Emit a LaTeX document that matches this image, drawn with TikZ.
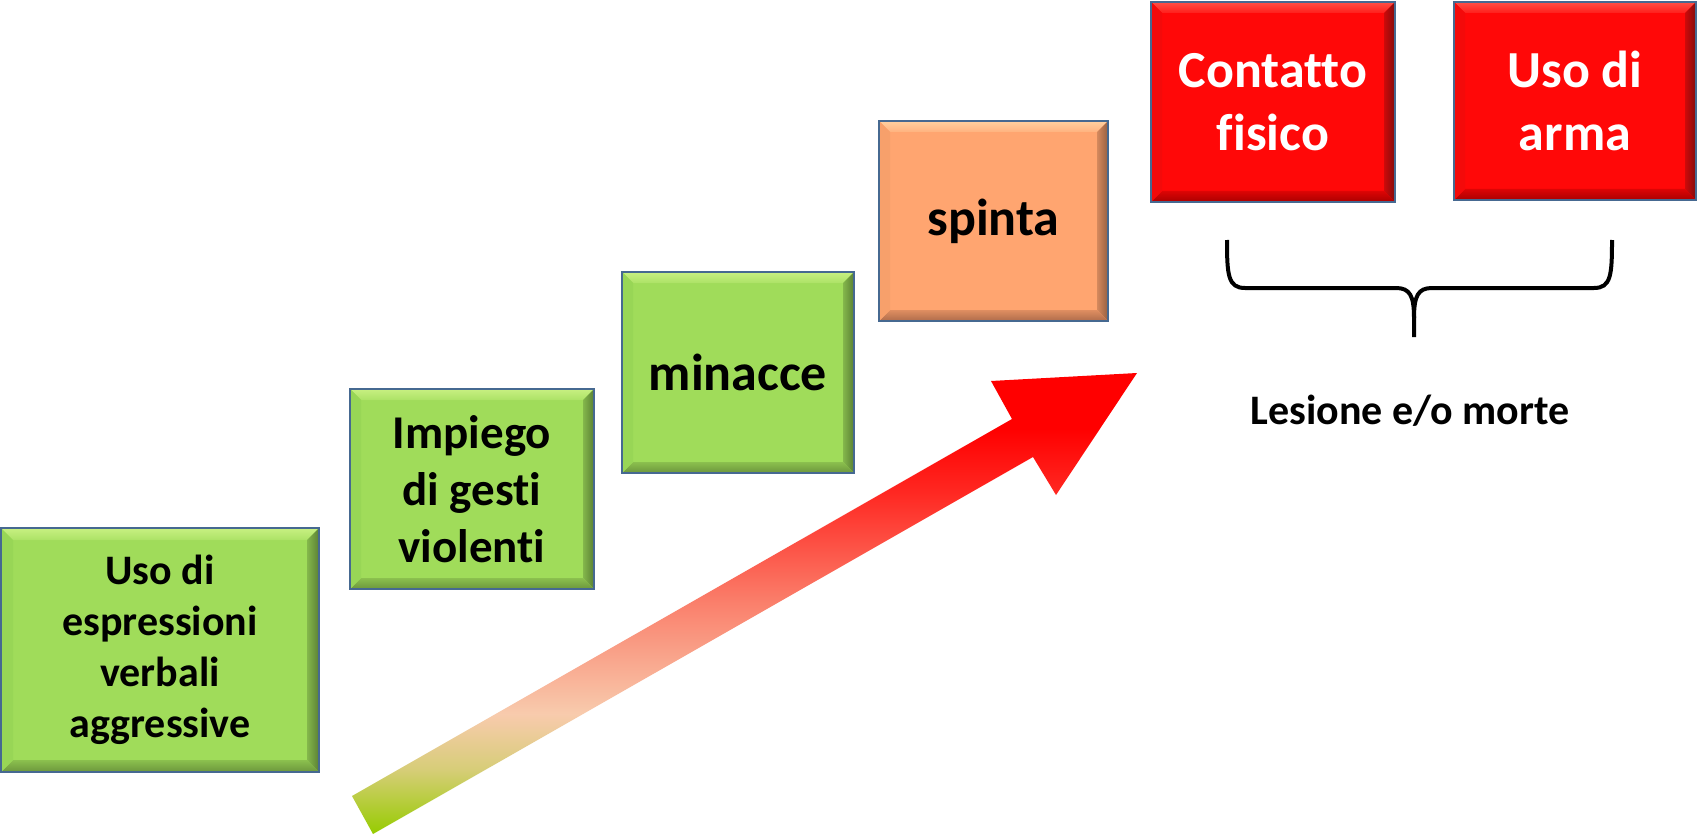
\documentclass[tikz,border=0pt]{standalone}
\usepackage{fontspec}
\setmainfont{Carlito}[Ligatures=CommonOff]
\usetikzlibrary{calc}
\definecolor{gfill}{RGB}{160,220,90}
\definecolor{gtop}{RGB}{200,240,130}
\definecolor{gleft}{RGB}{152,214,86}
\definecolor{gright}{RGB}{90,128,52}
\definecolor{gbot}{RGB}{108,150,60}
\definecolor{ofill}{RGB}{255,165,112}
\definecolor{otop}{RGB}{255,208,160}
\definecolor{oleft}{RGB}{247,160,107}
\definecolor{oright}{RGB}{150,95,65}
\definecolor{obot}{RGB}{175,108,75}
\definecolor{rfill}{RGB}{255,8,8}
\definecolor{rtop}{RGB}{255,80,70}
\definecolor{rleft}{RGB}{244,10,10}
\definecolor{rright}{RGB}{130,12,12}
\definecolor{rbot}{RGB}{170,0,0}
\definecolor{bord}{RGB}{70,105,145}
\definecolor{agreen}{RGB}{150,204,0}
\definecolor{amid}{RGB}{215,205,120}
\definecolor{apeach}{RGB}{248,203,173}
\definecolor{asalmon}{RGB}{250,128,108}
\definecolor{ared}{RGB}{255,40,34}
\definecolor{apure}{RGB}{255,0,0}
\pgfdeclareverticalshading{arrowshade}{100bp}{color(0bp)=(agreen); color(25bp)=(agreen); color(32bp)=(amid); color(38bp)=(apeach); color(50bp)=(asalmon); color(62bp)=(ared); color(69bp)=(apure); color(100bp)=(apure)}
% #1 name, #2 fill, #3 top, #4 left, #5 right, #6 bottom, #7 depth
\newcommand\bevelbox[7]{%
  \shade[top color=#3, bottom color=#2!70!#3] (#1.north west) -- (#1.north east) -- ($(#1.north east)+(-#7,#7)$) -- ($(#1.north west)+(#7,#7)$) -- cycle;
  \shade[left color=#2!60!#5, right color=#5] (#1.north east) -- (#1.south east) -- ($(#1.south east)+(-#7,-#7)$) -- ($(#1.north east)+(-#7,#7)$) -- cycle;
  \shade[top color=#2!60!#6, bottom color=#6] (#1.south east) -- (#1.south west) -- ($(#1.south west)+(#7,-#7)$) -- ($(#1.south east)+(-#7,-#7)$) -- cycle;
  \fill[#4] (#1.south west) -- (#1.north west) -- ($(#1.north west)+(#7,#7)$) -- ($(#1.south west)+(#7,-#7)$) -- cycle;
  \draw[bord, line width=1.6pt] (#1.north west) rectangle (#1.south east);
}
\tikzset{
  box/.style={rectangle, draw=bord, line width=1.6pt, outer sep=0pt, inner sep=0pt,
    align=center, font=\bfseries},
  greenbox/.style={box, fill=gfill, text=black},
  orangebox/.style={box, fill=ofill, text=black},
  redbox/.style={box, fill=rfill, text=white, font=\bfseries\fontsize{52}{63}\selectfont},
  bracestyle/.style={line width=4pt, black, line cap=butt},
  labelstyle/.style={font=\bfseries\fontsize{42}{51}\selectfont, text=black, anchor=base}
}
\begin{document}
\begin{tikzpicture}[x=1pt, y=-1pt]
\useasboundingbox (0,0) rectangle (1697,837);
\fill[white] (0,0) rectangle (1697,837);

% boxes
\node[greenbox, minimum width=318pt, minimum height=244pt, font=\bfseries\fontsize{42}{51}\selectfont]
  (b1) at (160,650) {Uso di\\espressioni\\verbali\\aggressive};
\node[greenbox, minimum width=244pt, minimum height=200pt, font=\bfseries\fontsize{47}{57}\selectfont]
  (b2) at (472,489) {Impiego\\di gesti\\violenti};
\node[greenbox, minimum width=232pt, minimum height=201pt, font=\bfseries\fontsize{52}{63}\selectfont]
  (b3) at (738,372.5) {minacce};
\node[orangebox, minimum width=229pt, minimum height=200pt, font=\bfseries\fontsize{52}{63}\selectfont]
  (b4) at (993.5,221) {spinta};
\node[redbox, minimum width=244pt, minimum height=200pt]
  (b5) at (1273,102) {Contatto\\fisico};
\node[redbox, minimum width=242pt, minimum height=198pt]
  (b6) at (1575,101) {Uso di\\arma};

\bevelbox{b1}{gfill}{gtop}{gleft}{gright}{gbot}{12}
\bevelbox{b2}{gfill}{gtop}{gleft}{gright}{gbot}{11}
\bevelbox{b3}{gfill}{gtop}{gleft}{gright}{gbot}{11}
\bevelbox{b4}{ofill}{otop}{oleft}{oright}{obot}{11}
\bevelbox{b5}{rfill}{rtop}{rleft}{rright}{rbot}{11}
\bevelbox{b6}{rfill}{rtop}{rleft}{rright}{rbot}{11}

% rising arrow
\coordinate (tailA) at (352,796);
\coordinate (tailB) at (373,834);
\coordinate (tip) at (1137,373);
\shade[shading=arrowshade]
  (tailA) -- (1012,419) -- (991,381) -- (tip) -- (1056,495) -- (1033,457) -- (tailB) -- cycle;

% brace
\coordinate (brL) at (1227,240);
\coordinate (brM) at (1414,337);
\coordinate (brR) at (1612,240);
\draw[bracestyle] (brL) .. controls (1227,275) and (1228,288) .. (1245,288)
  -- (1396,288) .. controls (1410,288) and (1414,296) .. (1414,318) -- (brM);
\draw[bracestyle] (brR) .. controls (1612,275) and (1611,288) .. (1594,288)
  -- (1432,288) .. controls (1418,288) and (1414,296) .. (1414,318);

\node[labelstyle] (les) at (1410,424) {Lesione e/o morte};
\end{tikzpicture}
\end{document}
